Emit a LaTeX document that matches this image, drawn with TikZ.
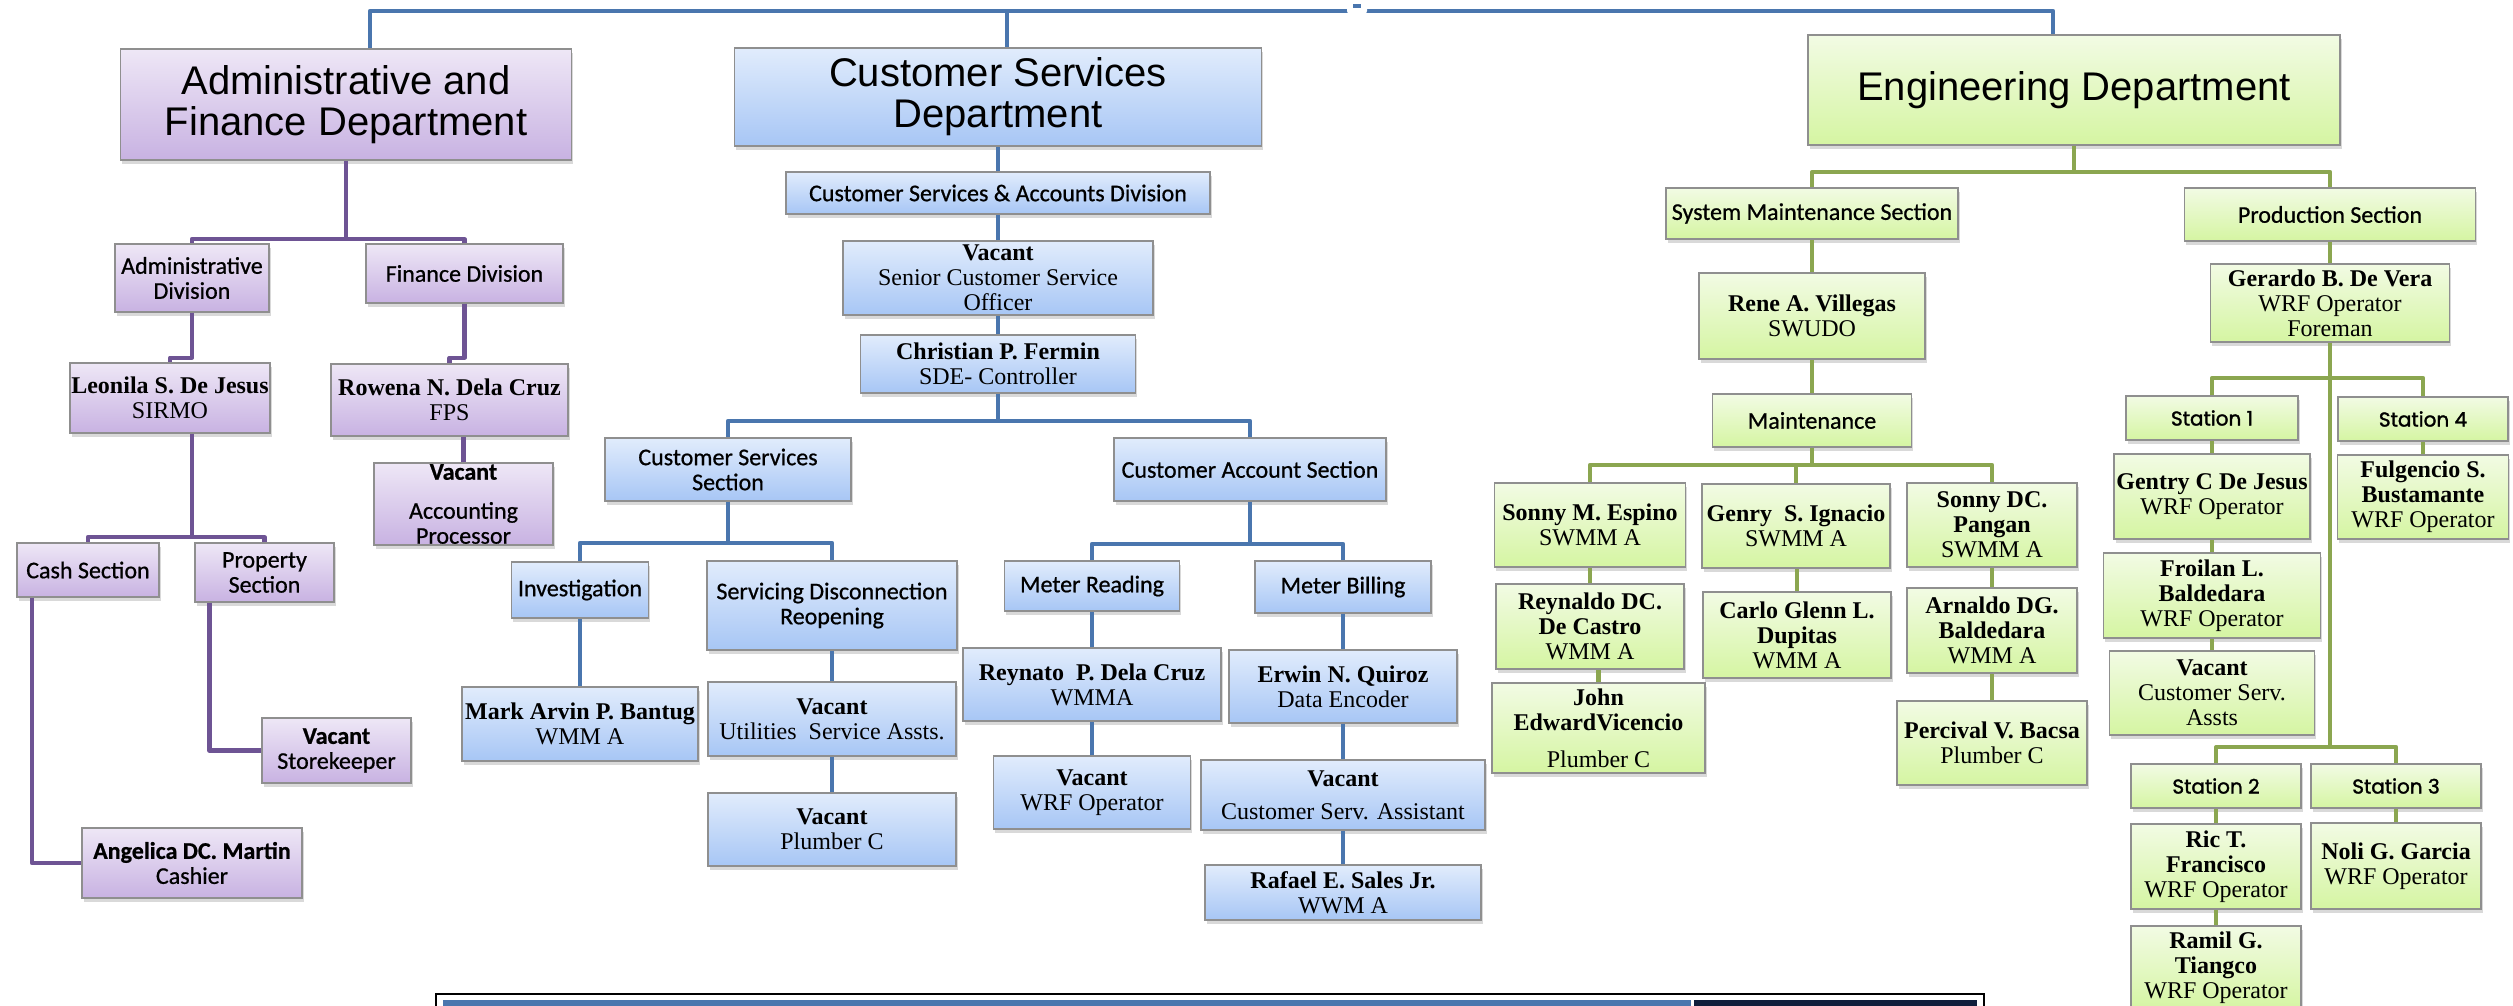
\documentclass[tikz,border=0pt]{standalone}
\usepackage{fontspec}
\setmainfont{Liberation Serif}
\newfontfamily\arialfont{Liberation Sans}
\newfontfamily\calibrifont[FakeBold=0.7]{Carlito}
\newfontfamily\gothicfont[FakeBold=1.6]{Poppins}
\usepackage{tikz}
\usetikzlibrary{shadows}
\definecolor{AdminTop}{HTML}{EEE7F6}
\definecolor{AdminBottom}{HTML}{C8B2E2}
\definecolor{AdminLine}{HTML}{6E5494}
\definecolor{CSTop}{HTML}{E1ECFC}
\definecolor{CSBottom}{HTML}{A7C6F5}
\definecolor{CSLine}{HTML}{4A76AE}
\definecolor{EngTop}{HTML}{F2FBE4}
\definecolor{EngBottom}{HTML}{D5F5A2}
\definecolor{EngLine}{HTML}{8BA650}
\definecolor{BoxEdge}{HTML}{8F8F8F}
\definecolor{NavyBar}{HTML}{0F1E3C}

\tikzset{
  orgbox/.style={draw=BoxEdge, line width=1.2pt, align=center, inner sep=1pt,
    drop shadow={shadow xshift=1.5pt, shadow yshift=-4pt, opacity=0.3}},
  boxsize/.style 2 args={minimum width=#1pt, minimum height=#2pt},
  adminbox/.style={orgbox, top color=AdminTop, bottom color=AdminBottom},
  csbox/.style={orgbox, top color=CSTop, bottom color=CSBottom},
  engbox/.style={orgbox, top color=EngTop, bottom color=EngBottom},
  dept/.style={font=\arialfont\fontsize{40}{41}\selectfont},
  sect/.style={font=\calibrifont\fontsize{24}{25}\selectfont},
  person/.style={font=\fontsize{24}{25}\selectfont},
  station/.style={font=\gothicfont\fontsize{20}{22}\selectfont},
  link/.style={line width=4.2pt, line join=round},
  adminline/.style={link, draw=AdminLine},
  csline/.style={link, draw=CSLine},
  engline/.style={link, draw=EngLine}
}

\begin{document}
\begin{tikzpicture}[x=1pt, y=-1pt]
\useasboundingbox (0,0) rectangle (2513,1005);

% administrative and finance
\node[adminbox, dept, boxsize={451}{111}] (afd) at (346,104.5) {Administrative and\\Finance Department};
\node[adminbox, sect, boxsize={154}{68}] (adiv) at (192,278) {Administrative\\Division};
\node[adminbox, sect, boxsize={197}{59}] (fdiv) at (464.5,273.5) {Finance Division};
\node[adminbox, person, boxsize={200}{70}] (leonila) at (170,398) {\textbf{Leonila S. De Jesus}\\SIRMO};
\node[adminbox, person, boxsize={237}{72}] (rowena) at (449.5,400) {\textbf{Rowena N. Dela Cruz}\\FPS};
\node[adminbox, sect, boxsize={179}{82}] (vacacc) at (463.5,504) {\textbf{Vacant}\\[14pt]Accounting\\Processor};
\node[adminbox, sect, boxsize={142}{54}] (cash) at (88,570) {Cash Section};
\node[adminbox, sect, boxsize={139}{59}] (prop) at (264.5,572.5) {Property\\Section};
\node[adminbox, sect, boxsize={149}{65}] (store) at (336.5,750.5) {\textbf{Vacant}\\Storekeeper};
\node[adminbox, sect, boxsize={220}{70}] (angel) at (192,863) {\textbf{Angelica DC. Martin}\\Cashier};

% customer services
\node[csbox, dept, boxsize={527}{98}] (csd) at (998,97) {Customer Services\\Department};
\node[csbox, sect, boxsize={424}{42}] (csad) at (998,193) {Customer Services \& Accounts Division};
\node[csbox, person, boxsize={310}{74}] (scso) at (998,278) {\textbf{Vacant}\\Senior Customer Service\\Officer};
\node[csbox, person, boxsize={275}{58}] (chris) at (998,364) {\textbf{Christian P. Fermin}\\SDE- Controller};
\node[csbox, sect, boxsize={246}{63}] (css) at (728,469.5) {Customer Services\\Section};
\node[csbox, sect, boxsize={272}{63}] (cas) at (1250,469.5) {Customer Account Section};
\node[csbox, sect, boxsize={137}{56}] (inv) at (580,590) {Investigation};
\node[csbox, sect, boxsize={250}{89}] (sdr) at (832,605.5) {Servicing Disconnection\\Reopening};
\node[csbox, person, boxsize={236}{74}] (mark) at (580,724) {\textbf{Mark Arvin P. Bantug}\\WMM A};
\node[csbox, person, boxsize={248}{74}] (util) at (832,719) {\textbf{Vacant}\\Utilities\ \ Service Assts.};
\node[csbox, person, boxsize={248}{73}] (plumb) at (832,829.5) {\textbf{Vacant}\\Plumber C};
\node[csbox, sect, boxsize={175}{50}] (mread) at (1092,586) {Meter Reading};
\node[csbox, sect, boxsize={176}{52}] (mbill) at (1343,587) {Meter Billing};
\node[csbox, person, boxsize={258}{73}] (reyn) at (1092,684.5) {\textbf{Reynato\ \ P. Dela Cruz}\\WMMA};
\node[csbox, person, boxsize={228}{73}] (erwin) at (1343,686.5) {\textbf{Erwin N. Quiroz}\\Data Encoder};
\node[csbox, person, boxsize={197}{73}] (vwrf) at (1092,792.5) {\textbf{Vacant}\\WRF Operator};
\node[csbox, person, boxsize={284}{70}] (vcsa) at (1343,795) {\textbf{Vacant}\\[8pt]Customer Serv. Assistant};
\node[csbox, person, boxsize={276}{55}] (rafael) at (1343,892.5) {\textbf{Rafael E. Sales Jr.}\\WWM A};

% engineering
\node[engbox, dept, boxsize={532}{110}] (eng) at (2074,90) {Engineering Department};
\node[engbox, sect, boxsize={292}{51}] (sms) at (1812,213.5) {System Maintenance Section};
\node[engbox, sect, boxsize={291}{53}] (prod) at (2330,214.5) {Production Section};
\node[engbox, person, boxsize={226}{86}] (rene) at (1812,316) {\textbf{Rene A. Villegas}\\SWUDO};
\node[engbox, sect, boxsize={199}{53}] (maint) at (1812,420.5) {Maintenance};
\node[engbox, person, boxsize={191}{84}] (sonnym) at (1590,525) {\textbf{Sonny M. Espino}\\SWMM A};
\node[engbox, person, boxsize={188}{84}] (genry) at (1796,526) {\textbf{Genry\ \ S. Ignacio}\\SWMM A};
\node[engbox, person, boxsize={170}{84}] (sonnyp) at (1992,525) {\textbf{Sonny DC.}\\\textbf{Pangan}\\SWMM A};
\node[engbox, person, boxsize={188}{85}] (reynaldo) at (1590,626.5) {\textbf{Reynaldo DC.}\\\textbf{De Castro}\\WMM A};
\node[engbox, person, boxsize={213}{90}] (john) at (1598.5,728) {\textbf{John}\\\textbf{EdwardVicencio}\\[12pt]Plumber C};
\node[engbox, person, boxsize={188}{86}] (carlo) at (1797,635) {\textbf{Carlo Glenn L.}\\\textbf{Dupitas}\\WMM A};
\node[engbox, person, boxsize={170}{85}] (arnaldo) at (1992,630.5) {\textbf{Arnaldo DG.}\\\textbf{Baldedara}\\WMM A};
\node[engbox, person, boxsize={190}{84}] (percival) at (1992,743) {\textbf{Percival V. Bacsa}\\Plumber C};
\node[engbox, person, boxsize={239}{78}] (gerardo) at (2330,303) {\textbf{Gerardo B. De Vera}\\WRF Operator\\Foreman};
\node[engbox, station, boxsize={172}{44}] (st1) at (2212,418) {Station 1};
\node[engbox, station, boxsize={170}{44}] (st4) at (2423,419) {Station 4};
\node[engbox, person, boxsize={196}{85}] (gentry) at (2212,496.5) {\textbf{Gentry C De Jesus}\\WRF Operator};
\node[engbox, person, boxsize={217}{85}] (froilan) at (2212,595.5) {\textbf{Froilan L.}\\\textbf{Baldedara}\\WRF Operator};
\node[engbox, person, boxsize={205}{84}] (vacserv) at (2212,693) {\textbf{Vacant}\\Customer Serv.\\Assts};
\node[engbox, person, boxsize={171}{84}] (fulg) at (2423,497) {\textbf{Fulgencio S.}\\\textbf{Bustamante}\\WRF Operator};
\node[engbox, station, boxsize={170}{44}] (st2) at (2216,786) {Station 2};
\node[engbox, station, boxsize={170}{44}] (st3) at (2396,786) {Station 3};
\node[engbox, person, boxsize={170}{85}] (ric) at (2216,866.5) {\textbf{Ric T.}\\\textbf{Francisco}\\WRF Operator};
\node[engbox, person, boxsize={170}{86}] (noli) at (2396,866) {\textbf{Noli G. Garcia}\\WRF Operator};
\node[engbox, person, boxsize={170}{84}] (ramil) at (2216,968) {\textbf{Ramil G.}\\\textbf{Tiangco}\\WRF Operator};

% top line joining the three departments
\coordinate (topbus) at (1007,11);
\draw[csline] ([xshift=24pt]afd.north) |- (topbus) -| ([xshift=-21pt]eng.north);
\draw[csline] (topbus) -- (topbus |- csd.north);
\node[fill=white, rounded corners=3pt, minimum width=20pt, minimum height=12pt, inner sep=0pt] (gripback) at (1357,8) {};
\node[fill=CSLine, minimum width=8pt, minimum height=4pt, inner sep=0pt] (grip) at (1357,6) {};

% admin links
\coordinate (afdbus) at (346,239);
\draw[adminline] (afd.south) -- (afdbus) -| (adiv.north);
\draw[adminline] (afdbus) -| (fdiv.north);
\draw[adminline] (adiv.south) -- ++(0,45) -| (leonila.north);
\draw[adminline] (fdiv.south) -- ++(0,54) -| (rowena.north);
\draw[adminline] (vacacc.north) -- (vacacc.north |- rowena.south);
\coordinate (leobus) at (192,537);
\draw[adminline] (leobus |- leonila.south) -- (leobus) -| (cash.north);
\draw[adminline] (leobus) -| (prop.north);
\draw[adminline] ([xshift=-56pt]cash.south) |- (angel.west);
\draw[adminline] ([xshift=-55pt]prop.south) |- (store.west);

% customer services links
\foreach \up/\down in {csd/csad, csad/scso, scso/chris, inv/mark, sdr/util, util/plumb,
    mread/reyn, reyn/vwrf, mbill/erwin, erwin/vcsa, vcsa/rafael}
  \draw[csline] (\down.north) -- (\down.north |- \up.south);
\coordinate (chrisbus) at (998,421);
\draw[csline] (chris.south) -- (chrisbus) -| (css.north);
\draw[csline] (chrisbus) -| (cas.north);
\coordinate (cssbus) at (728,543);
\draw[csline] (css.south) -- (cssbus) -| (inv.north);
\draw[csline] (cssbus) -| (sdr.north);
\coordinate (casbus) at (1250,544);
\draw[csline] (cas.south) -- (casbus) -| (mread.north);
\draw[csline] (casbus) -| (mbill.north);

% engineering links
\foreach \up/\down in {sms/rene, rene/maint, sonnym/reynaldo, reynaldo/john, genry/carlo,
    sonnyp/arnaldo, arnaldo/percival, prod/gerardo, st1/gentry, gentry/froilan,
    froilan/vacserv, st4/fulg, st2/ric, ric/ramil, st3/noli}
  \draw[engline] (\down.north) -- (\down.north |- \up.south);
\coordinate (engbus) at (2074,172);
\draw[engline] (eng.south) -- (engbus) -| (sms.north);
\draw[engline] (engbus) -| (prod.north);
\coordinate (maintbus) at (1812,465);
\draw[engline] (maint.south) -- (maintbus) -| (sonnym.north);
\draw[engline] (maintbus) -| (genry.north);
\draw[engline] (maintbus) -| (sonnyp.north);
\coordinate (stbus) at (2330,378);
\coordinate (lowbus) at (2330,747);
\draw[engline] (gerardo.south) -- (lowbus);
\draw[engline] (stbus) -| (st1.north);
\draw[engline] (stbus) -| (st4.north);
\draw[engline] (lowbus) -| (st2.north);
\draw[engline] (lowbus) -| (st3.north);

% strip along the bottom edge
\draw[line width=2.5pt] (436,1012) -- (436,994) -- (1984,994) -- (1984,1012);
\fill[CSLine] (443,1000) rectangle (1691,1012);
\fill[NavyBar] (1694,1000) rectangle (1977,1012);
\end{tikzpicture}
\end{document}
